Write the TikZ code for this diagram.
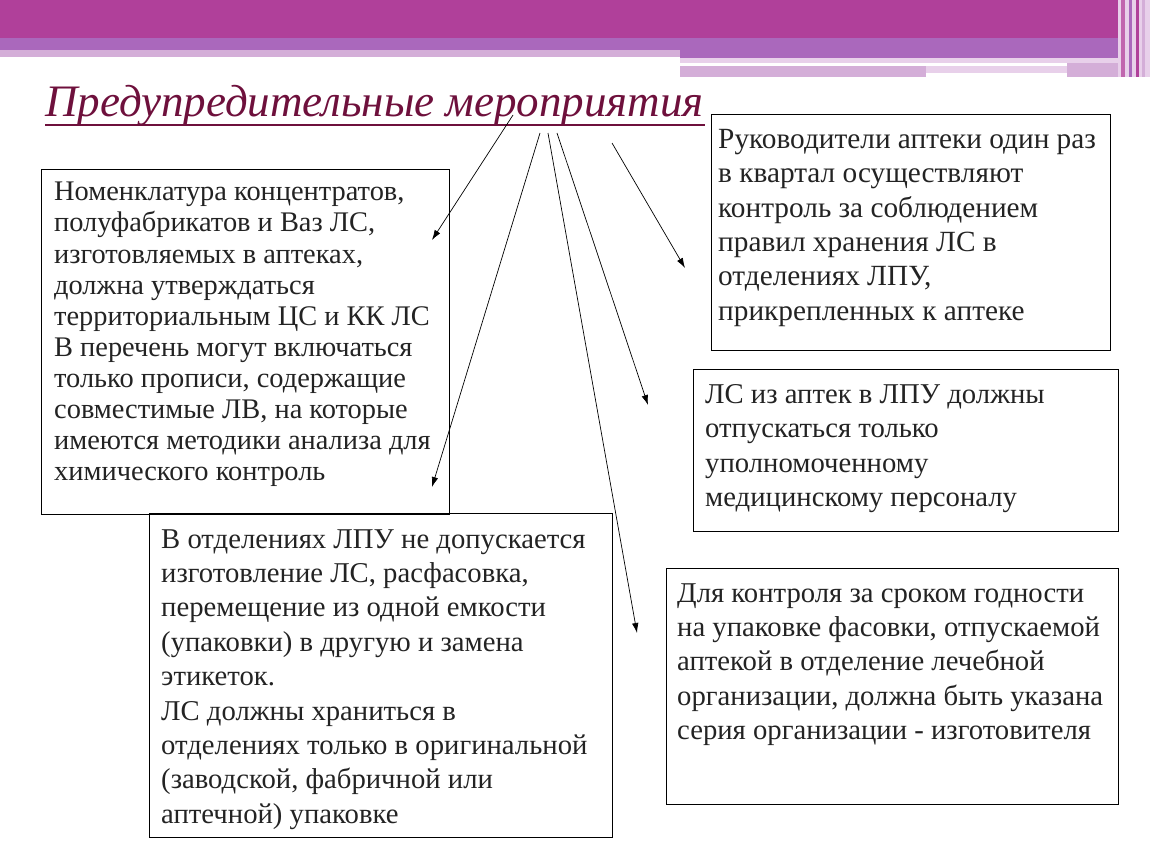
\documentclass[tikz,border=0pt]{standalone}
\usepackage{fontspec}
\setmainfont{Liberation Serif}
\usetikzlibrary{arrows.meta,positioning}
\definecolor{bannerdark}{RGB}{176,64,154}
\definecolor{bannermid}{RGB}{170,104,188}
\definecolor{bannerlight}{RGB}{212,174,216}
\definecolor{bannerpale}{RGB}{232,208,234}
\definecolor{titlered}{RGB}{110,16,60}
\definecolor{notetext}{RGB}{35,35,35}

\begin{document}
\begin{tikzpicture}[x=1pt, y=-1pt,
  note/.style={draw, line width=0.9pt, anchor=north west, inner sep=0pt},
  txt/.style={anchor=north west, align=left, inner sep=0pt, text=notetext, font=\fontsize{28.7}{34.4}\selectfont},
  >={Latex[length=10pt,width=6.5pt]}]
\useasboundingbox (0,0) rectangle (1150,864);

% banner
\fill[bannerdark] (0,0) rectangle (1118,38);
\fill[bannermid] (0,38) rectangle (680,50);
\fill[bannerlight] (0,50) rectangle (680,57);
\fill[bannermid] (680,38) rectangle (1118,58);
\fill[bannerpale] (680,58) rectangle (1118,63);
\fill[bannerlight] (680,66) rectangle (926,77);
\fill[bannerpale] (926,66) rectangle (1067,73);
\fill[bannerlight] (1067,63) rectangle (1118,77);
\fill[bannerpale] (1118,0) rectangle (1150,77);
\fill[bannerdark!80] (1121,0) rectangle (1125,77);
\fill[bannermid] (1129,0) rectangle (1132,77);
\fill[bannerdark] (1136,0) rectangle (1139,77);
\fill[bannerlight] (1142,0) rectangle (1145,77);

% title
\node[anchor=base west, inner sep=0pt, text=titlered, font=\fontsize{45}{50}\selectfont\itshape] (title) at (45,117) {Предупредительные мероприятия};
\draw[titlered, line width=2.8pt] (45,125) -- (705,125);

% boxes
\node[note, minimum width=408, minimum height=345] (nomen) at (41,169) {};
\node[note, minimum width=399, minimum height=236] (rukov) at (711,114) {};
\node[note, minimum width=425, minimum height=162] (otpusk) at (693,369) {};
\node[note, minimum width=463, minimum height=324] (otdel) at (149,513) {};
\node[note, minimum width=452, minimum height=236] (srok) at (666,568) {};

\node[txt, font=\fontsize{28.4}{31.1}\selectfont] at (54,182) {Номенклатура концентратов,\\полуфабрикатов и Ваз ЛС,\\изготовляемых в аптеках,\\должна утверждаться\\территориальным ЦС и КК ЛС\\В перечень могут включаться\\только прописи, содержащие\\совместимые ЛВ, на которые\\имеются методики анализа для\\химического контроль};
\node[txt, font=\fontsize{29.3}{34.4}\selectfont] at (718,129) {Руководители аптеки один раз\\в квартал осуществляют\\контроль за соблюдением\\правил хранения ЛС в\\отделениях ЛПУ,\\прикрепленных к аптеке};
\node[txt] at (705,384) {ЛС из аптек в ЛПУ должны\\отпускаться только\\уполномоченному\\медицинскому персоналу};
\node[txt] at (161,529) {В отделениях ЛПУ не допускается\\изготовление ЛС, расфасовка,\\перемещение из одной емкости\\(упаковки) в другую и замена\\этикеток.\\ЛС должны храниться в\\отделениях только в оригинальной\\(заводской, фабричной или\\аптечной) упаковке};
\node[txt] at (677,583) {Для контроля за сроком годности\\на упаковке фасовки, отпускаемой\\аптекой в отделение лечебной\\организации, должна быть указана\\серия организации - изготовителя};

% arrows
\coordinate (s1) at (513,115);
\coordinate (s2) at (540,133);
\coordinate (s3) at (548,133);
\coordinate (s4) at (557,133);
\coordinate (s5) at (612,143);
\coordinate (e1) at (432,240);
\coordinate (e2) at (432,487);
\coordinate (e3) at (637,633);
\coordinate (e4) at (648,405);
\coordinate (e5) at (685,268);
\foreach \i in {1,...,5}
  \draw[->, line width=0.7pt] (s\i) -- (e\i);
\end{tikzpicture}
\end{document}
